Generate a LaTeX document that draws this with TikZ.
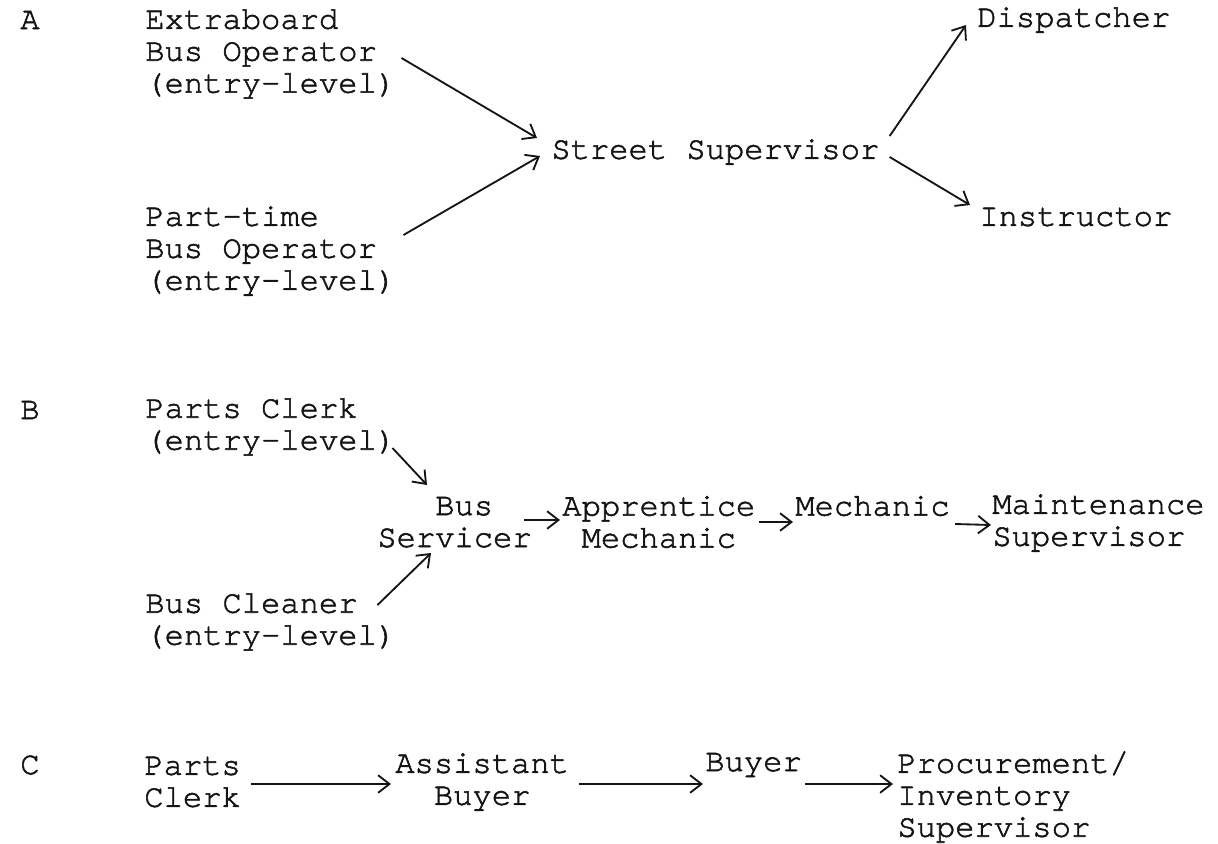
\documentclass[tikz,border=0pt]{standalone}
\usepackage{fontspec}
\usepackage{xcolor}
\usepackage{tikz}
\usetikzlibrary{arrows.meta}
\newfontfamily\typewfont[FakeBold=1.8]{texgyrecursor-regular.otf}
\definecolor{CPInk}{HTML}{141414}

\begin{document}
\begin{tikzpicture}[x=0.02cm,y=-0.02cm,
  job/.style={inner sep=0pt,anchor=west,text=CPInk,
    font=\typewfont\fontsize{18.3}{18.2}\selectfont},
  jobl/.style={job,align=left},
  jobc/.style={job,align=center},
  arr/.style={draw=CPInk,line width=1.05pt,-{Straight Barb[length=6.5pt,width=10pt]}}]
\path[use as bounding box] (0,0) rectangle (1218,843);
% track A
\node[job] (labA) at (20,20) {A};
\node[jobl] (extra) at (145,54) {Extraboard\\Bus Operator\\(entry-level)};
\node[jobl] (part) at (145,251) {Part-time\\Bus Operator\\(entry-level)};
\node[job] (street) at (551,152) {Street Supervisor};
\node[job] (disp) at (977,20) {Dispatcher};
\node[job] (instr) at (979,217) {Instructor};
\draw[arr] ([shift={(5,4)}]extra.east) -- ([shift={(-14,-14)}]street.west);
\draw[arr] ([shift={(7,-16)}]part.east) -- ([shift={(-11,4)}]street.west);
\draw[arr] ([shift={(10,-16)}]street.east) -- ([shift={(-11,5)}]disp.west);
\draw[arr] ([shift={(10,5)}]street.east) -- ([shift={(-9,-12)}]instr.west);
% track B
\node[job] (labB) at (20,410) {B};
\node[jobl] (clerkB) at (145,427) {Parts Clerk\\(entry-level)};
\node[jobl] (cleaner) at (145,622) {Bus Cleaner\\(entry-level)};
\node[jobl] (servicer) at (377,522) {\phantom{Ser}Bus\\Servicer};
\node[jobc] (apprentice) at (562,522) {Apprentice\\Mechanic};
\node[job] (mechanic) at (795,506) {Mechanic};
\node[jobl] (maintsup) at (992,523) {Maintenance\\Supervisor};
\draw[arr] ([shift={(-4,21)}]clerkB.east) -- ([shift={(50,-37)}]servicer.west);
\draw[arr] ([shift={(-19,-17)}]cleaner.east) -- ([shift={(54,31)}]servicer.west);
\draw[arr] ([shift={(-8,-2)}]servicer.east) -- ([shift={(-2,-2)}]apprentice.west);
\draw[arr] ([shift={(3,0)}]apprentice.east) -- ([shift={(-2,16)}]mechanic.west);
\draw[arr] ([shift={(5,18)}]mechanic.east) -- ([shift={(-1,2)}]maintsup.west);
% track C
\node[job] (labC) at (20,765) {C};
\node[jobl] (clerkC) at (144,782) {Parts\\Clerk};
\node[jobc] (assistant) at (395,782) {Assistant\\Buyer};
\node[job] (buyer) at (705,765) {Buyer};
\node[jobl] (procure) at (897,797) {Procurement/\\Inventory\\Supervisor};
\draw[arr] ([shift={(10,2)}]clerkC.east) -- ([shift={(-4,2)}]assistant.west);
\draw[arr] ([shift={(10,2)}]assistant.east) -- ([shift={(-2,19)}]buyer.west);
\draw[arr] ([shift={(3,19)}]buyer.east) -- ([shift={(-4,-13)}]procure.west);
\end{tikzpicture}
\end{document}
